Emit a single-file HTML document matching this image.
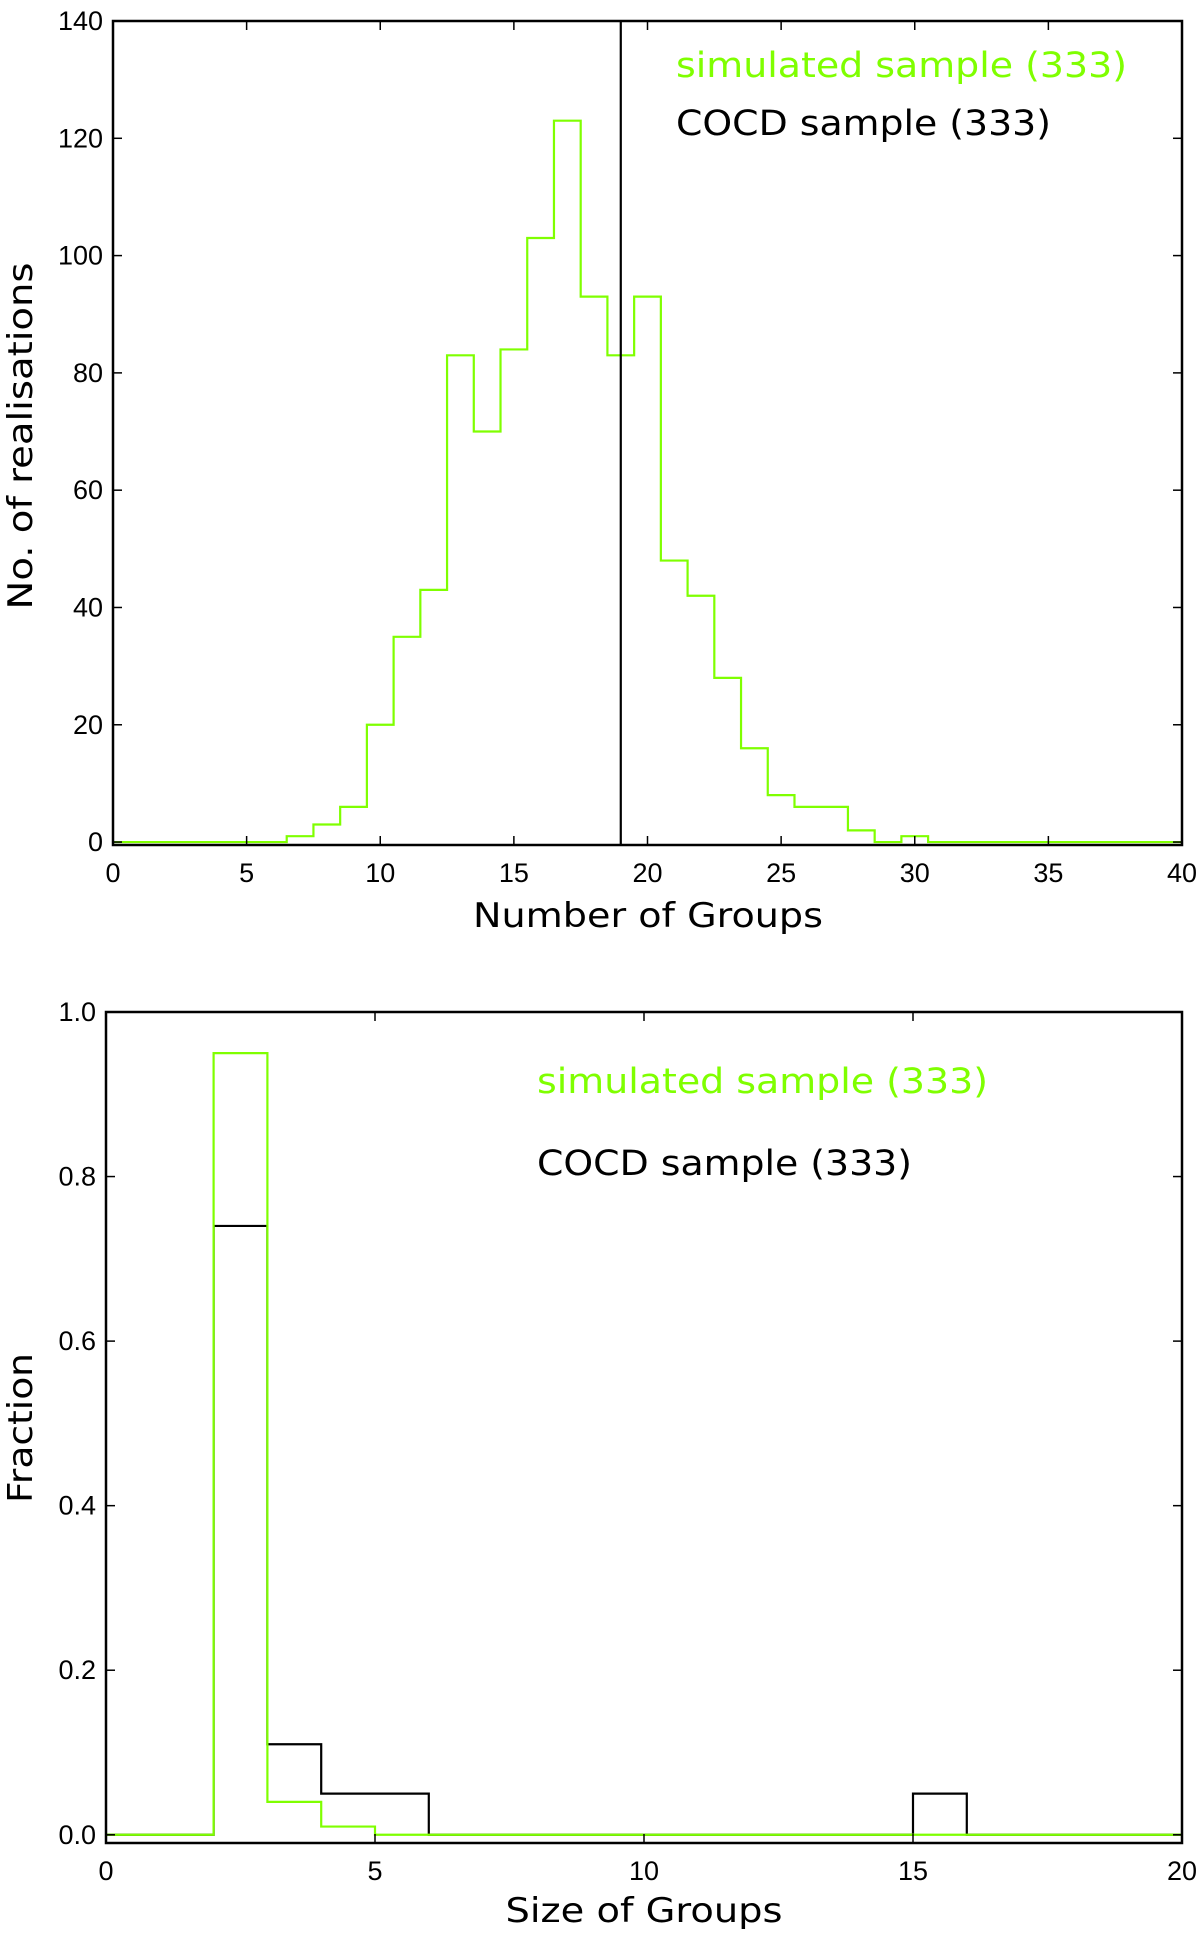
<!DOCTYPE html>
<html><head><meta charset="utf-8"><style>
html,body{margin:0;padding:0;background:#fff;}
svg{display:block;font-family:"Liberation Sans","DejaVu Sans",sans-serif;}
.dv{font-family:"DejaVu Sans","Liberation Sans",sans-serif;}
</style></head><body>
<svg id="fig" width="1200" height="1933" viewBox="0 0 1200 1933" xmlns="http://www.w3.org/2000/svg">
<rect x="0" y="0" width="1200" height="1933" fill="#fff"/>
<g id="top"></g>
<g id="bot"></g>
</svg>
<script>
// ---- Top chart data ----
const topBinCenters = [0,1,2,3,4,5,6,7,8,9,10,11,12,13,14,15,16,17,18,19,20,21,22,23,24,25,26,27,28,29,30,31,32,33,34,35,36,37,38,39,40];
const topSimCounts  = [0,0,0,0,0,0,0,1,3,6,20,35,43,83,70,84,103,123,93,83,93,48,42,28,16,8,6,6,2,0,1,0,0,0,0,0,0,0,0,0,0];
const topCocdValue = [19];
const topXTicks = [0,5,10,15,20,25,30,35,40];
const topYTicks = [0,20,40,60,80,100,120,140];
// ---- Bottom chart data ----
const botEdges = [0,1,2,3,4,5,6,7,8,9,10,11,12,13,14,15,16,17,18,19,20];
const botSimFrac  = [0,0,0.95,0.04,0.01,0,0,0,0,0,0,0,0,0,0,0,0,0,0,0];
const botCocdFrac = [0,0,0.74,0.11,0.05,0.05,0,0,0,0,0,0,0,0,0,0.05,0,0,0,0];
const botXTicks = [0,5,10,15,20];
const botYTicks = [0,0.2,0.4,0.6,0.8,1.0];
const botYTickLabels = ["0.0","0.2","0.4","0.6","0.8","1.0"];

const NS="http://www.w3.org/2000/svg";
const GREEN="#7fff00";
function mk(tag,attrs,parent){const e=document.createElementNS(NS,tag);for(const k in attrs)e.setAttribute(k,attrs[k]);parent.appendChild(e);return e;}

function axes(g,L,R,T,B,xmin,xmax,ymin,ymax){
  const sx=v=>L+(v-xmin)/(xmax-xmin)*(R-L);
  const sy=v=>B-(v-ymin)/(ymax-ymin)*(B-T);
  return {sx,sy};
}

function drawFrame(g,L,R,T,B,sx,sy,xt,xtl,yt,ytl,tickLen){
  const tg=mk('g',{},g);
  
  
  xt.forEach((v,i)=>{
    const x=sx(v);
    mk('line',{x1:x,x2:x,y1:B,y2:B-tickLen,stroke:'#000','stroke-width':1.5},tg);
    mk('line',{x1:x,x2:x,y1:T,y2:T+tickLen,stroke:'#000','stroke-width':1.5},tg);
    const t=mk('text',{x:x,y:B+37,'text-anchor':'middle','font-size':27,fill:'#000'},tg);
    
    
    t.textContent=xtl[i];
  });
  yt.forEach((v,i)=>{
    const y=sy(v);
    mk('line',{x1:L,x2:L+tickLen,y1:y,y2:y,stroke:'#000','stroke-width':1.5},tg);
    mk('line',{x1:R,x2:R-tickLen,y1:y,y2:y,stroke:'#000','stroke-width':1.5},tg);
    const t=mk('text',{x:L-10,y:y+9,'text-anchor':'end','font-size':27,fill:'#000'},tg);
    
    
    t.textContent=ytl[i];
  });
  const f=mk('rect',{x:L,y:T,width:R-L,height:B-T,fill:'none',stroke:'#000','stroke-width':2.5},g);
  
  
}

function stepPath(edges,vals,sx,sy){
  let d='M'+sx(edges[0])+','+sy(0);
  for(let i=0;i<vals.length;i++){
    d+=' L'+sx(edges[i])+','+sy(vals[i])+' L'+sx(edges[i+1])+','+sy(vals[i]);
  }
  d+=' L'+sx(edges[edges.length-1])+','+sy(0);
  return d;
}

// ---- Top chart ----
(function(){
  const g=document.getElementById('top');
  const L=113,R=1182,T=21,B=845;
  const {sx,sy}=axes(g,L,R,T,B,0,40,-0.5,140);
  const clip=mk('clipPath',{id:'clipTop'},g);
  mk('rect',{x:L,y:T,width:R-L,height:B-T},clip);
  const edges=topBinCenters.map(c=>c-0.5).concat([topBinCenters[topBinCenters.length-1]+0.5]);
  const p=mk('path',{d:stepPath(edges,topSimCounts,sx,sy),fill:'none',stroke:GREEN,'stroke-width':2.2,'clip-path':'url(#clipTop)'},g);
  
  
  const vl=mk('line',{x1:sx(topCocdValue[0]),x2:sx(topCocdValue[0]),y1:T,y2:B,stroke:'#000','stroke-width':2.2},g);
  
  
  drawFrame(g,L,R,T,B,sx,sy,topXTicks,topXTicks.map(String),topYTicks,topYTicks.map(String),9);
  const l1=mk('text',{class:'dv',x:676,y:77,'font-size':35,fill:GREEN,textLength:451,lengthAdjust:'spacingAndGlyphs'},g);
  
  
  l1.textContent='simulated sample (333)';
  const l2=mk('text',{class:'dv',x:676,y:135,'font-size':35,fill:'#000',textLength:375,lengthAdjust:'spacingAndGlyphs'},g);
  
  
  l2.textContent='COCD sample (333)';
  const xl=mk('text',{class:'dv',x:648,y:927,'text-anchor':'middle','font-size':34,fill:'#000',textLength:350,lengthAdjust:'spacingAndGlyphs'},g);
  
  
  xl.textContent='Number of Groups';
  const yl=mk('text',{class:'dv',x:0,y:0,'text-anchor':'middle','font-size':34,fill:'#000',textLength:347,lengthAdjust:'spacingAndGlyphs',transform:'translate(32,436) rotate(-90)'},g);
  
  
  yl.textContent='No. of realisations';
})();

// ---- Bottom chart ----
(function(){
  const g=document.getElementById('bot');
  const L=106,R=1182,T=1012,B=1843;
  const {sx,sy}=axes(g,L,R,T,B,0,20,-0.01,1.0);
  const p2=mk('path',{d:stepPath(botEdges,botCocdFrac,sx,sy),fill:'none',stroke:'#000','stroke-width':2.2},g);
  
  
  const p1=mk('path',{d:stepPath(botEdges,botSimFrac,sx,sy),fill:'none',stroke:GREEN,'stroke-width':2.2},g);
  
  
  drawFrame(g,L,R,T,B,sx,sy,botXTicks,botXTicks.map(String),botYTicks,botYTickLabels,9);
  const l1=mk('text',{class:'dv',x:537,y:1093,'font-size':35,fill:GREEN,textLength:451,lengthAdjust:'spacingAndGlyphs'},g);
  
  
  l1.textContent='simulated sample (333)';
  const l2=mk('text',{class:'dv',x:537,y:1175,'font-size':35,fill:'#000',textLength:375,lengthAdjust:'spacingAndGlyphs'},g);
  
  
  l2.textContent='COCD sample (333)';
  const xl=mk('text',{class:'dv',x:644,y:1922,'text-anchor':'middle','font-size':34,fill:'#000',textLength:277,lengthAdjust:'spacingAndGlyphs'},g);
  
  
  xl.textContent='Size of Groups';
  const yl=mk('text',{class:'dv',x:0,y:0,'text-anchor':'middle','font-size':34,fill:'#000',textLength:150,lengthAdjust:'spacingAndGlyphs',transform:'translate(32,1428) rotate(-90)'},g);
  
  
  yl.textContent='Fraction';
})();
</script>
</body></html>
